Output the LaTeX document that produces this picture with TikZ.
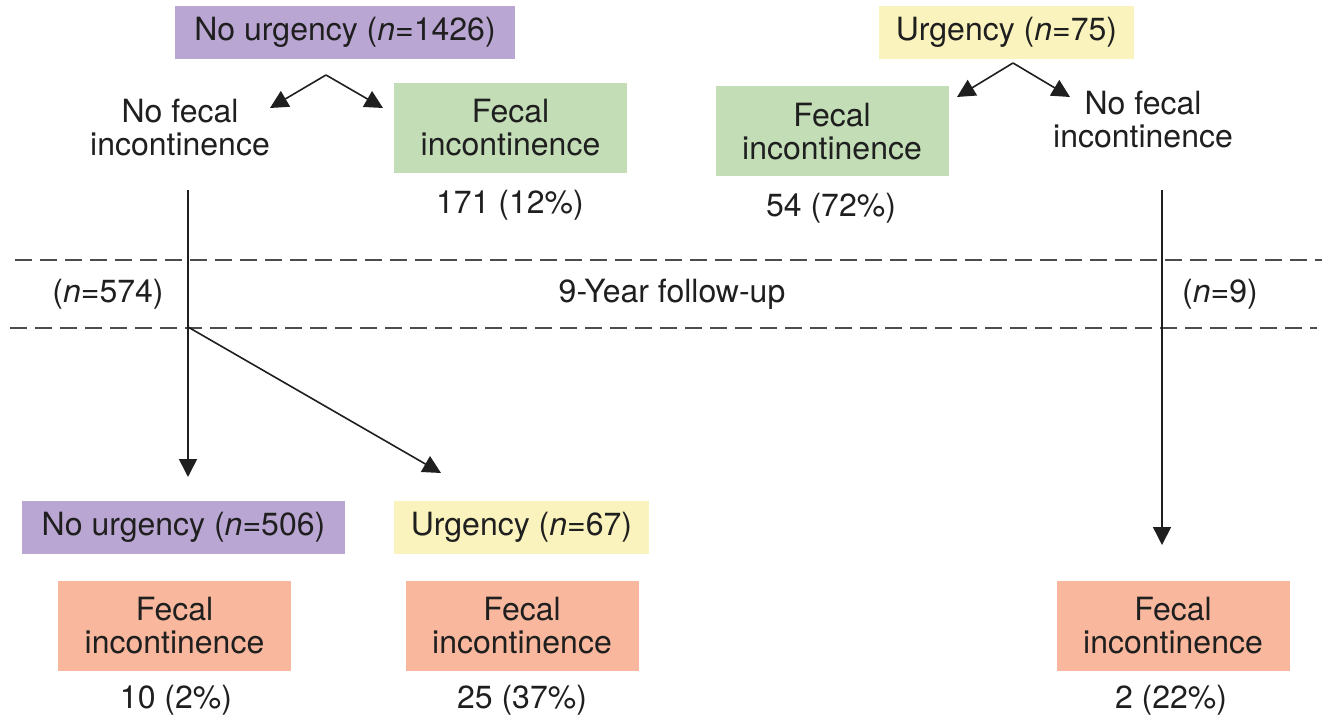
\documentclass[tikz,border=0pt]{standalone}
\usepackage{fontspec}
\setmainfont{TeX Gyre Heros}
\usepackage{tikz}
\usetikzlibrary{arrows.meta}
\colorlet{ink}{black!88}
\definecolor{lilac}{HTML}{B9A6D2}
\definecolor{sage}{HTML}{C3DEB7}
\definecolor{cream}{HTML}{FAF3BD}
\definecolor{salmon}{HTML}{F9B89D}
\newcommand\nn{\textit{n}}
\tikzstyle{grp}=[inner sep=0pt,minimum height=26.5pt,text=ink]
\tikzstyle{outc}=[inner sep=0pt,minimum width=116.5pt,minimum height=45pt,align=center,text=ink]
\tikzstyle{lbl}=[inner sep=0pt,align=center,text=ink]
\tikzstyle{fwhead}=[>/.tip={Triangle[length=9pt,width=9pt]}]
\tikzstyle{fw} =[line width=.8pt,draw=ink,fwhead,->]
\tikzstyle{sep}=[line width=.75pt,draw=black!70,dash pattern=on 8.5pt off 4pt]

\begin{document}
\begin{tikzpicture}[x=.5pt,y=-.5pt,font=\fontsize{16}{16.5}\selectfont]
	\useasboundingbox (0,0) rectangle (1331,721);
	\node[grp,fill=lilac,minimum width=170pt]  (nuA) at (345,32.5)   {No urgency (\nn=1426)};
	\node[lbl]                                 (nofiA) at (180,128)  {No fecal\\incontinence};
	\node[outc,fill=sage]                      (fiA) at (510.5,128)  {Fecal\\incontinence};
	\node[lbl]                                 (pA) at (510,205)     {171 (12\%)};
	\node[grp,fill=cream,minimum width=127.5pt] (uB) at (1006.5,32.5) {Urgency (\nn=75)};
	\node[outc,fill=sage]                      (fiB) at (832,131.5)  {Fecal\\incontinence};
	\node[lbl]                                 (nofiB) at (1143,120) {No fecal\\incontinence};
	\node[lbl]                                 (pB) at (831,208)     {54 (72\%)};
	\node[lbl] (nA)   at (108,294)  {(\nn=574)};
	\node[lbl] (year) at (672,294)  {9-Year follow-up};
	\node[lbl] (nB)   at (1220,294) {(\nn=9)};
	\node[grp,fill=lilac,minimum width=161.5pt] (nuC) at (183.5,527) {No urgency (\nn=506)};
	\node[grp,fill=cream,minimum width=127.5pt] (uC) at (521.5,527)  {Urgency (\nn=67)};
	\node[outc,fill=salmon] (fiC) at (174.5,626) {Fecal\\incontinence};
	\node[outc,fill=salmon] (fiD) at (522,626)   {Fecal\\incontinence};
	\node[outc,fill=salmon] (fiE) at (1173,626)  {Fecal\\incontinence};
	\node[lbl] (pC) at (176,700)  {10 (2\%)};
	\node[lbl] (pD) at (522,700)  {25 (37\%)};
	\node[lbl] (pE) at (1171,700) {2 (22\%)};
	\coordinate (forkA) at (326,75);
	\coordinate (forkB) at (1013,63);
	\coordinate (stemA) at (188,190);
	\coordinate (forkC) at (188,327);
	\coordinate (stemB) at (1162,190);
	\draw[sep] (15,260) -- (1322,260);
	\draw[sep] (10,328) -- (1317,328);
	\draw[fw] (forkA) -- (270,108);
	\draw[fw] (forkA) -- (383,108);
	\draw[fw] (forkB) -- (957,97);
	\draw[fw] (forkB) -- (1070,97);
	\draw[fw] (stemA) -- (188,477);
	\draw[fw] (forkC) -- (441,473);
	\draw[fw] (stemB) -- (1162,545);
\end{tikzpicture}
\end{document}
